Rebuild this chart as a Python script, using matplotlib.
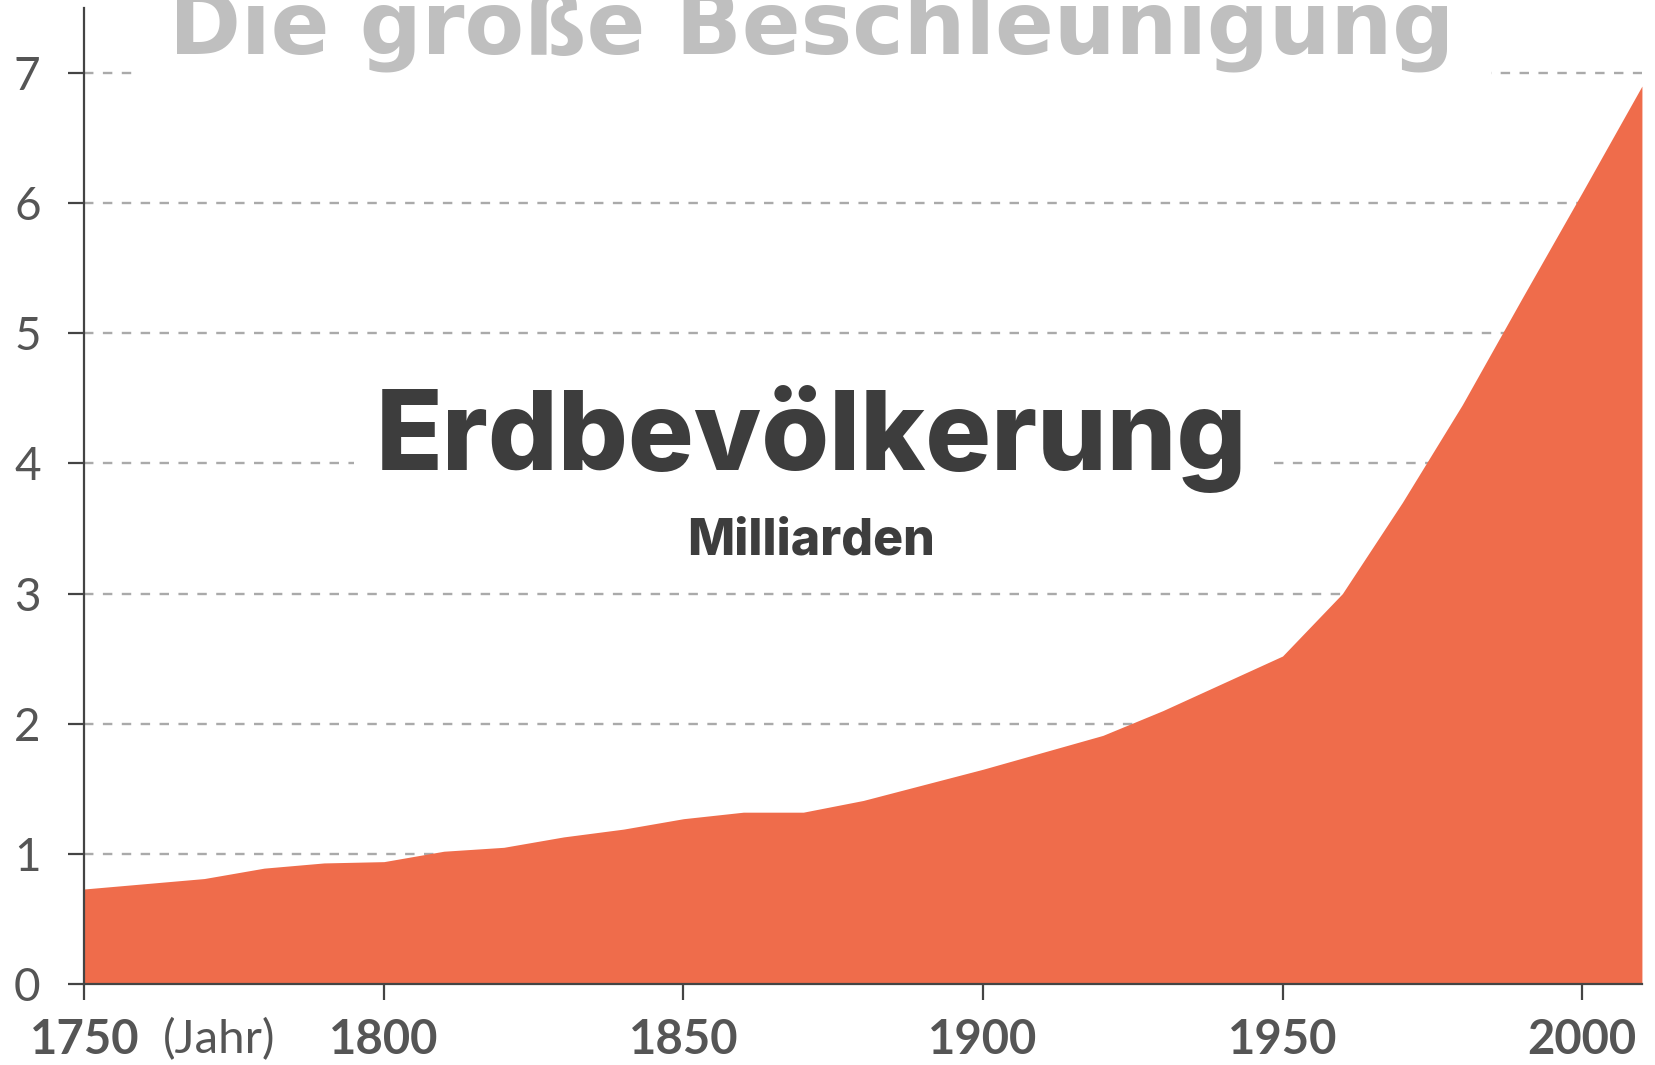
import numpy as np
import matplotlib
matplotlib.use('Agg')
import matplotlib.pyplot as plt

# population (billions)
years = [1750, 1770, 1780, 1790, 1800, 1810, 1820, 1830, 1840, 1850, 1860,
         1870, 1880, 1900, 1910, 1920, 1930, 1950, 1960, 1970, 1980, 1990,
         2000, 2010]
pop = [0.73, 0.81, 0.89, 0.93, 0.94, 1.02, 1.05, 1.13, 1.19, 1.27, 1.32,
       1.32, 1.41, 1.65, 1.78, 1.91, 2.10, 2.52, 3.00, 3.70, 4.45, 5.27,
       6.08, 6.90]

xticks = [1750, 1800, 1850, 1900, 1950, 2000]
yticks = [0, 1, 2, 3, 4, 5, 6, 7]

title = 'Die große Beschleunigung'
label = 'Erdbevölkerung'
unit = 'Milliarden'

fill_col = '#ef6c4b'
axis_col = '#444444'
tick_col = '#555555'
grid_col = '#aaaaaa'

fig = plt.figure(figsize=(16.56, 10.65), dpi=100)
ax = fig.add_axes([0.051, 0.0761, 0.9405, 0.9164])

ax.fill_between(years, pop, 0, color=fill_col, lw=0, zorder=3)
ax.set_xlim(1750, 2010)
ax.set_ylim(0, 7.5)

for y in yticks[1:]:
    ax.axhline(y, color=grid_col, lw=1.7, ls=(0, (4, 4)), zorder=1)

for s in ['top', 'right']:
    ax.spines[s].set_visible(False)
for s in ['left', 'bottom']:
    ax.spines[s].set_color(axis_col)
    ax.spines[s].set_linewidth(1.6)
    ax.spines[s].set_zorder(4)

ax.set_xticks(xticks)
ax.set_xticklabels([str(x) for x in xticks], fontfamily='Lato',
                   fontweight='bold', fontsize=34, color=tick_col)
ax.set_xticks([1772.5], labels=['(Jahr)'], minor=True)
for t in ax.get_xticklabels(minor=True):
    t.set_fontfamily('Lato')
    t.set_fontsize(34)
    t.set_color(tick_col)
ax.set_yticks(yticks)
ax.set_yticklabels([str(y) for y in yticks], fontfamily='Lato',
                   fontsize=33, color=tick_col)
ax.tick_params(axis='both', which='major', length=11.5, width=1.6,
               color=axis_col)
ax.tick_params(axis='x', which='major', pad=13)
ax.tick_params(axis='y', which='major', pad=20)
ax.tick_params(axis='x', which='minor', length=0, pad=24.5)

# title runs off the top edge, as in the original
fig.text(0.49, 0.950, title, ha='center', va='baseline',
         fontfamily='DejaVu Sans', fontweight='bold', fontsize=62.5,
         color='#bfbfbf', zorder=5,
         bbox=dict(facecolor='white', edgecolor='none',
                   boxstyle='square,pad=0.42'))
fig.text(0.49, 0.5587, label, ha='center', va='baseline', fontfamily='Inter',
         fontweight='heavy', fontsize=79, color='#3d3d3d', zorder=5,
         bbox=dict(facecolor='white', edgecolor='none',
                   boxstyle='square,pad=0.2'))
fig.text(0.49, 0.479, unit, ha='center', va='baseline', fontfamily='Inter',
         fontweight='heavy', fontsize=36, color='#3d3d3d', zorder=5)

fig.savefig('out.png', dpi=100)
